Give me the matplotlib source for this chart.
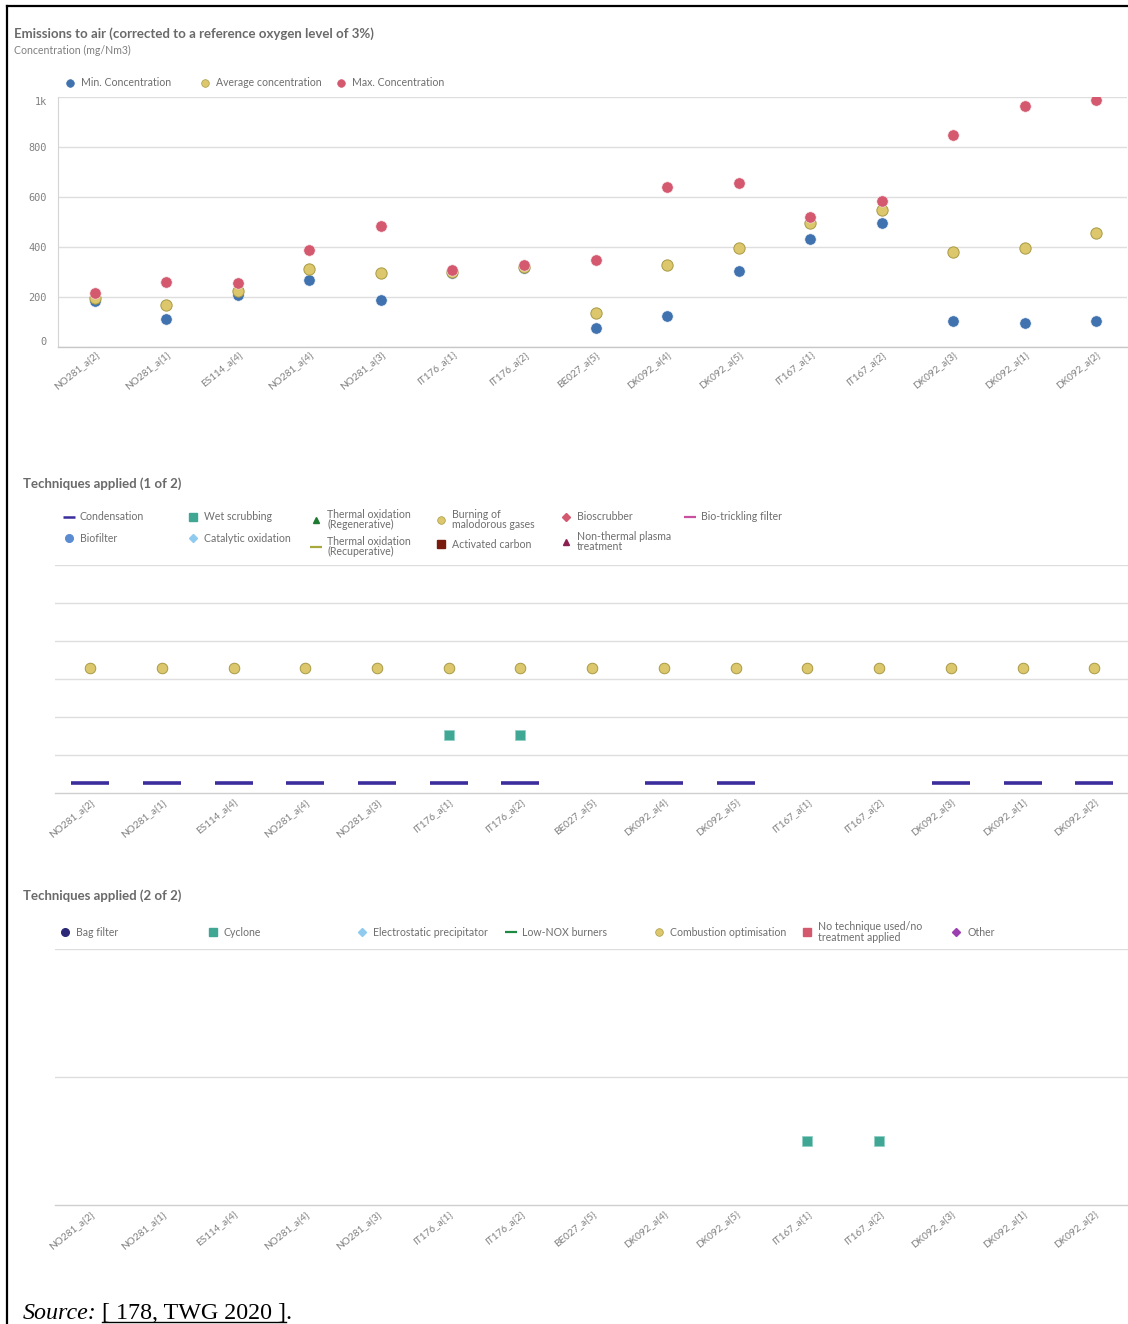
import matplotlib
matplotlib.use("Agg")
import matplotlib.pyplot as plt
from matplotlib.lines import Line2D
import numpy as np

# ---------------- data ----------------
sites = ["NO281_a{2}", "NO281_a{1}", "ES114_a{4}", "NO281_a{4}", "NO281_a{3}",
         "IT176_a{1}", "IT176_a{2}", "BE027_a{5}", "DK092_a{4}", "DK092_a{5}",
         "IT167_a{1}", "IT167_a{2}", "DK092_a{3}", "DK092_a{1}", "DK092_a{2}"]
min_conc = [184, 111, 208, 267, 188, 298, 315, 77, 124, 304, 431, 497, 105, 95, 105]
avg_conc = [195, 167, 224, 311, 297, 302, 320, 135, 328, 395, 497, 548, 381, 395, 455]
max_conc = [215, 260, 257, 388, 484, 308, 328, 348, 641, 657, 521, 585, 848, 964, 988]
yticks_vals = [0, 200, 400, 600, 800, 1000]
yticks_labels = ["0", "200", "400", "600", "800", "1k"]

# techniques (1 of 2): flags per site, and row level in panel
condensation = [1, 1, 1, 1, 1, 1, 1, 0, 1, 1, 0, 0, 1, 1, 1]
wet_scrubbing = [0, 0, 0, 0, 0, 1, 1, 0, 0, 0, 0, 0, 0, 0, 0]
burning = [1] * 15
level_condensation = 0.26
level_wet_scrubbing = 1.53
level_burning = 3.29
# techniques (2 of 2)
cyclone = [0, 0, 0, 0, 0, 0, 0, 0, 0, 0, 1, 1, 0, 0, 0]
level_cyclone = 0.5

W, H = 1128, 1324
fig = plt.figure(figsize=(W / 100, H / 100), dpi=100)
fig.patch.set_facecolor("white")

SANS = ["Lato", "DejaVu Sans"]
GRAY = "#6e6e6e"
LGRAY = "#808080"
GRID = "#dedede"

C_BLUE = "#3f72ae"
C_YEL = "#dcc76d"
C_YEL_E = "#a89a45"
C_RED = "#d4596f"
C_TEAL = "#40a795"
C_IND = "#3b2d9c"

LEG_FS = 7.6
TITLE_FS = 9.5


def fx(x):
    return x / W


def fy(y):
    return 1 - y / H


def add_axes_px(l, t, r, b):
    return fig.add_axes([fx(l), fy(b), (r - l) / W, (b - t) / H])


def style_cat_axis(ax, xlim):
    ax.set_xlim(*xlim)
    ax.set_xticks(np.arange(len(sites)))
    ax.set_xticklabels(sites, rotation=39, ha="right", rotation_mode="anchor",
                       fontsize=7.2, color=LGRAY, family=SANS)
    ax.tick_params(axis="x", length=0, pad=3)
    for s in ["top", "right", "left"]:
        ax.spines[s].set_visible(False)
    ax.spines["bottom"].set_color("#cfcfcf")
    ax.spines["bottom"].set_linewidth(1.0)
    ax.set_facecolor("none")


def fig_marker(x, y, **kw):
    fig.add_artist(Line2D([fx(x)], [fy(y)], transform=fig.transFigure, linestyle="none", **kw))


def fig_label(x, y, s, size=LEG_FS, color=GRAY, **kw):
    fig.text(fx(x), fy(y), s, fontsize=size, color=color, family=SANS, va="center", ha="left",
             linespacing=0.95, **kw)


# ---------------- page frame ----------------
fig.add_artist(Line2D([fx(7), fx(7)], [fy(6), 0], transform=fig.transFigure, color="black", lw=1.6))
fig.add_artist(Line2D([fx(7), 1], [fy(6), fy(6)], transform=fig.transFigure, color="black", lw=1.6))

# ---------------- chart 1 ----------------
fig.text(fx(14), fy(34), "Emissions to air (corrected to a reference oxygen level of 3%)",
         fontsize=TITLE_FS, fontweight="bold", color="#6a6a6a", family=SANS, va="center")
fig.text(fx(14), fy(50), "Concentration (mg/Nm3)", fontsize=7.6, color=LGRAY, family=SANS, va="center")

leg1 = [("Min. Concentration", C_BLUE, None, 70), ("Average concentration", C_YEL, C_YEL_E, 205),
        ("Max. Concentration", C_RED, None, 341)]
for lab, c, ec, x in leg1:
    fig_marker(x, 83, marker="o", markersize=5.5, markerfacecolor=c,
               markeredgecolor=ec if ec else c, markeredgewidth=0.5)
    fig_label(x + 11, 83, lab)

ax1 = add_axes_px(58, 97, 1127, 347)
x = np.arange(len(sites))
ax1.scatter(x, min_conc, s=66, color=C_BLUE, edgecolors="#e8eef6", linewidths=0.4, zorder=3)
ax1.scatter(x, avg_conc, s=66, color=C_YEL, edgecolors=C_YEL_E, linewidths=0.7, zorder=4)
ax1.scatter(x, max_conc, s=66, color=C_RED, edgecolors="#f6e4e8", linewidths=0.4, zorder=5)
ax1.set_ylim(0, 1000)
ax1.set_yticks(yticks_vals)
ax1.set_yticklabels(yticks_labels, family="DejaVu Sans Mono", fontsize=7.4, color=LGRAY)
ax1.tick_params(axis="y", length=0, pad=8)
for lbl, v in zip(ax1.get_yticklabels(), yticks_vals):
    if v == 0:
        lbl.set_va("bottom")
    elif v == 1000:
        lbl.set_va("top")
ax1.grid(axis="y", color=GRID, lw=1.0)
ax1.set_axisbelow(True)
style_cat_axis(ax1, (-0.515, 14.43))
ax1.spines["left"].set_visible(True)
ax1.spines["left"].set_color("#d4d4d4")
ax1.spines["bottom"].set_color("#c8c8c8")
ax1.tick_params(axis="x", pad=2)

# ---------------- chart 2 ----------------
fig.text(fx(23), fy(484), "Techniques applied (1 of 2)", fontsize=TITLE_FS, fontweight="bold",
         color="#6a6a6a", family=SANS, va="center")
leg2 = [
    ("Condensation", dict(marker="_", markersize=8, markeredgewidth=1.8, color=C_IND), 69, 517),
    ("Biofilter", dict(marker="o", markersize=5.5, color="#5b8bd0"), 69, 538),
    ("Wet scrubbing", dict(marker="s", markersize=5.5, color=C_TEAL), 193, 517),
    ("Catalytic oxidation", dict(marker="D", markersize=4.5, color="#8fcbef"), 193, 538),
    ("Thermal oxidation\n(Regenerative)", dict(marker="^", markersize=5, color="#1d7a30"), 316, 520),
    ("Thermal oxidation\n(Recuperative)", dict(marker="_", markersize=8, markeredgewidth=1.6, color="#a9a83c"), 316, 547),
    ("Burning of\nmalodorous gases", dict(marker="o", markersize=5.5, markerfacecolor=C_YEL,
                                         markeredgecolor=C_YEL_E, markeredgewidth=0.5), 441, 520),
    ("Activated carbon", dict(marker="s", markersize=5.5, color="#7a1a0c"), 441, 544),
    ("Bioscrubber", dict(marker="D", markersize=4.5, color="#d2596e"), 566, 517),
    ("Non-thermal plasma\ntreatment", dict(marker="^", markersize=5, color="#8a1f50"), 566, 542),
    ("Bio-trickling filter", dict(marker="_", markersize=8, markeredgewidth=1.6, color="#c94f9f"), 690, 517),
]
text_y_off = {"Thermal oxidation\n(Regenerative)": 519.5, "Thermal oxidation\n(Recuperative)": 546.5,
              "Burning of\nmalodorous gases": 519.5, "Non-thermal plasma\ntreatment": 541.5}
for lab, kw, mx, my in leg2:
    fig_marker(mx, my, **kw)
    fig_label(mx + 11, text_y_off.get(lab, my), lab)

ax2 = add_axes_px(55, 565, 1128, 793)
ax2.set_ylim(0, 6)
ax2.set_yticks([1, 2, 3, 4, 5, 6])
ax2.set_yticklabels([])
ax2.tick_params(axis="y", length=0)
ax2.grid(axis="y", color=GRID, lw=1.0)
ax2.set_axisbelow(True)
style_cat_axis(ax2, (-0.49, 14.47))
xc = [i for i, f in enumerate(condensation) if f]
ax2.plot(xc, [level_condensation] * len(xc), linestyle="none", marker="_", markersize=27,
         markeredgewidth=2.6, color=C_IND, zorder=3)
xw = [i for i, f in enumerate(wet_scrubbing) if f]
ax2.plot(xw, [level_wet_scrubbing] * len(xw), linestyle="none", marker="s", markersize=7.2,
         markerfacecolor=C_TEAL, markeredgecolor="#8fd0c4", markeredgewidth=0.5, zorder=3)
xb = [i for i, f in enumerate(burning) if f]
ax2.plot(xb, [level_burning] * len(xb), linestyle="none", marker="o", markersize=7.6,
         markerfacecolor=C_YEL, markeredgecolor=C_YEL_E, markeredgewidth=0.7, zorder=3)

# ---------------- chart 3 ----------------
fig.text(fx(23), fy(896), "Techniques applied (2 of 2)", fontsize=TITLE_FS, fontweight="bold",
         color="#6a6a6a", family=SANS, va="center")
leg3 = [
    ("Bag filter", dict(marker="o", markersize=5.5, color="#2b2878"), 65, 932),
    ("Cyclone", dict(marker="s", markersize=5.5, color=C_TEAL), 213, 932),
    ("Electrostatic precipitator", dict(marker="D", markersize=4.5, color="#8fcbef"), 362, 932),
    ("Low-NOX burners", dict(marker="_", markersize=8, markeredgewidth=1.6, color="#1c8a40"), 511, 932),
    ("Combustion optimisation", dict(marker="o", markersize=5.5, markerfacecolor=C_YEL,
                                     markeredgecolor=C_YEL_E, markeredgewidth=0.5), 659, 932),
    ("No technique used/no\ntreatment applied", dict(marker="s", markersize=5.5, color=C_RED), 807, 932),
    ("Other", dict(marker="D", markersize=4.5, color="#9b3fb0"), 956, 932),
]
for lab, kw, mx, my in leg3:
    fig_marker(mx, my, **kw)
    fig_label(mx + 11, my, lab)

ax3 = add_axes_px(55, 949, 1128, 1205)
ax3.set_ylim(0, 2)
ax3.set_yticks([1, 2])
ax3.set_yticklabels([])
ax3.tick_params(axis="y", length=0)
ax3.grid(axis="y", color=GRID, lw=1.0)
ax3.set_axisbelow(True)
style_cat_axis(ax3, (-0.49, 14.47))
xcy = [i for i, f in enumerate(cyclone) if f]
ax3.plot(xcy, [level_cyclone] * len(xcy), linestyle="none", marker="s", markersize=7.2,
         markerfacecolor=C_TEAL, markeredgecolor="#8fd0c4", markeredgewidth=0.5, zorder=3)

# ---------------- source ----------------
fig.canvas.draw()
r = fig.canvas.get_renderer()
base_y = fy(1319)
SRC_FS = 17.3
t1 = fig.text(fx(23), base_y, "Source:", fontsize=SRC_FS, family="Liberation Serif", style="italic",
              va="baseline", color="black")
bb = t1.get_window_extent(r)
t2 = fig.text(bb.x1 / W + 5 / W, base_y, "[ 178, TWG 2020 ]", fontsize=SRC_FS, family="Liberation Serif",
              va="baseline", color="black")
bb2 = t2.get_window_extent(r)
fig.text(bb2.x1 / W, base_y, ".", fontsize=SRC_FS, family="Liberation Serif", va="baseline", color="black")
fig.add_artist(Line2D([bb2.x0 / W, bb2.x1 / W], [fy(1321.5), fy(1321.5)], transform=fig.transFigure,
                      color="black", lw=1.0))

fig.savefig("out.png", dpi=100, facecolor="white")
